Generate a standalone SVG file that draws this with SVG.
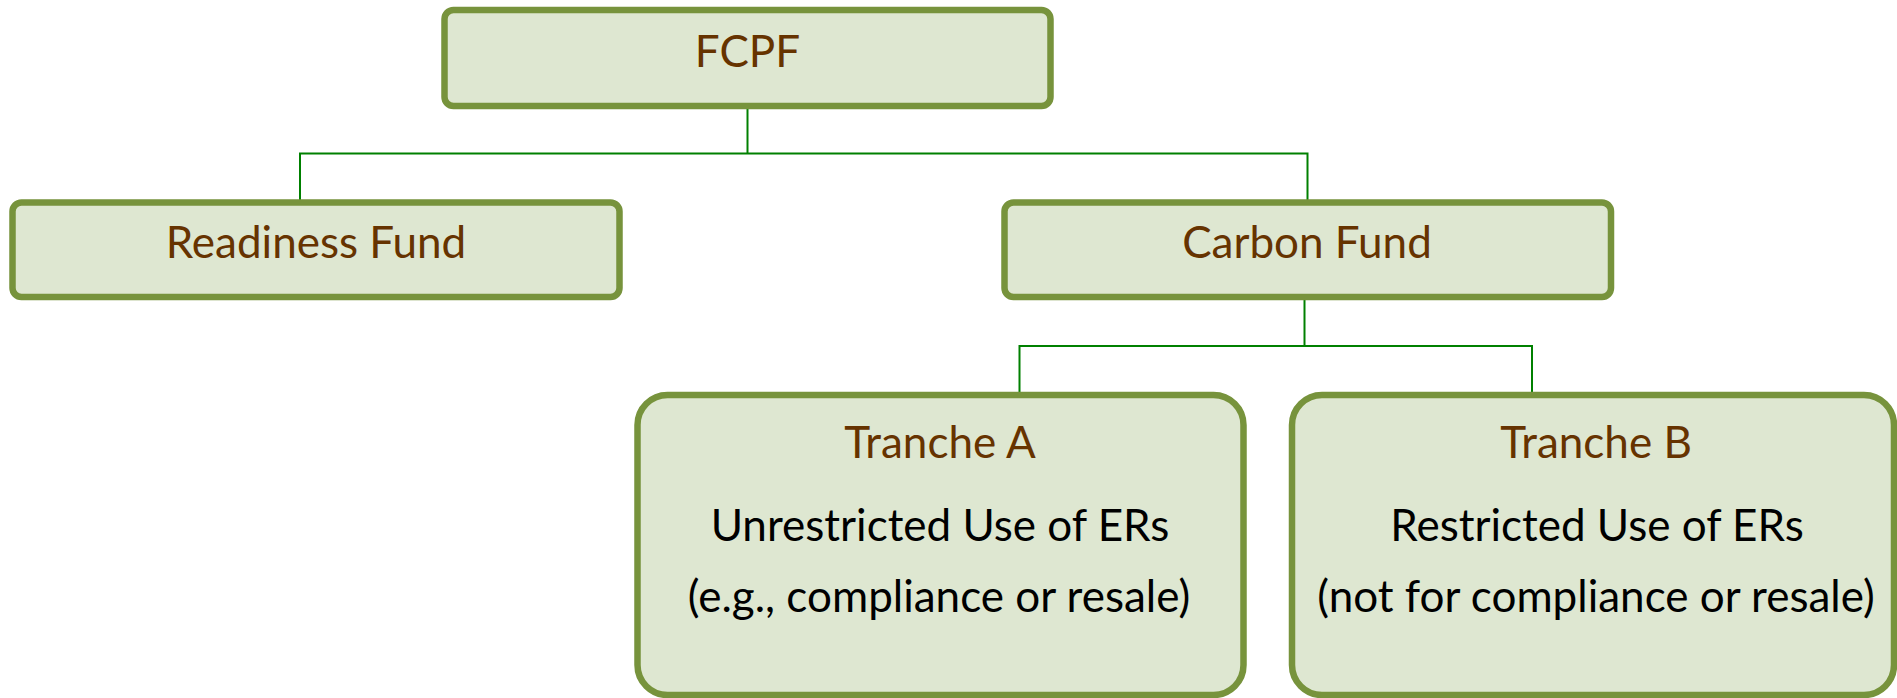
<svg xmlns="http://www.w3.org/2000/svg" width="1897" height="698" viewBox="0 0 1897 698">
<style>
.box{fill:#dee7d1;stroke:#77933c;stroke-width:6.5}
.t{font-family:Lato,"Open Sans","Liberation Sans",sans-serif;font-size:44px;text-anchor:middle}
.h{fill:#663300}
.b{fill:#000000}
.c{fill:none;stroke:#008000;stroke-width:2}
</style>
<rect width="1897" height="698" fill="#ffffff"/>
<g id="connectors">
<path class="c" d="M747.5,106 L747.5,153.5"/>
<path class="c" d="M300,200 L300,153.5 L1307.5,153.5 L1307.5,200"/>
<path class="c" d="M1304.5,298 L1304.5,346"/>
<path class="c" d="M1019.5,393 L1019.5,346 L1532,346 L1532,393"/>
</g>
<g id="fcpf">
<rect class="box" x="444.5" y="10" width="606" height="96" rx="9"/>
<text class="t h" x="747.5" y="67">FCPF</text>
</g>
<g id="readiness">
<rect class="box" x="12.5" y="202.5" width="607" height="94.5" rx="9"/>
<text class="t h" x="316" y="258">Readiness Fund</text>
</g>
<g id="carbon">
<rect class="box" x="1004.5" y="202.5" width="606.5" height="94.5" rx="9"/>
<text class="t h" x="1307" y="258">Carbon Fund</text>
</g>
<g id="trancheA">
<rect class="box" x="637.5" y="395" width="606" height="300" rx="30"/>
<text class="t h" x="940" y="458">Tranche A</text>
<text class="t b" x="940" y="541">Unrestricted Use of ERs</text>
<text class="t b" x="939" y="612">(e.g., compliance or resale)</text>
</g>
<g id="trancheB">
<rect class="box" x="1292" y="395" width="602" height="300" rx="30"/>
<text class="t h" x="1596" y="458">Tranche B</text>
<text class="t b" x="1597" y="541">Restricted Use of ERs</text>
<text class="t b" x="1596" y="612">(not for compliance or resale)</text>
</g>
</svg>
